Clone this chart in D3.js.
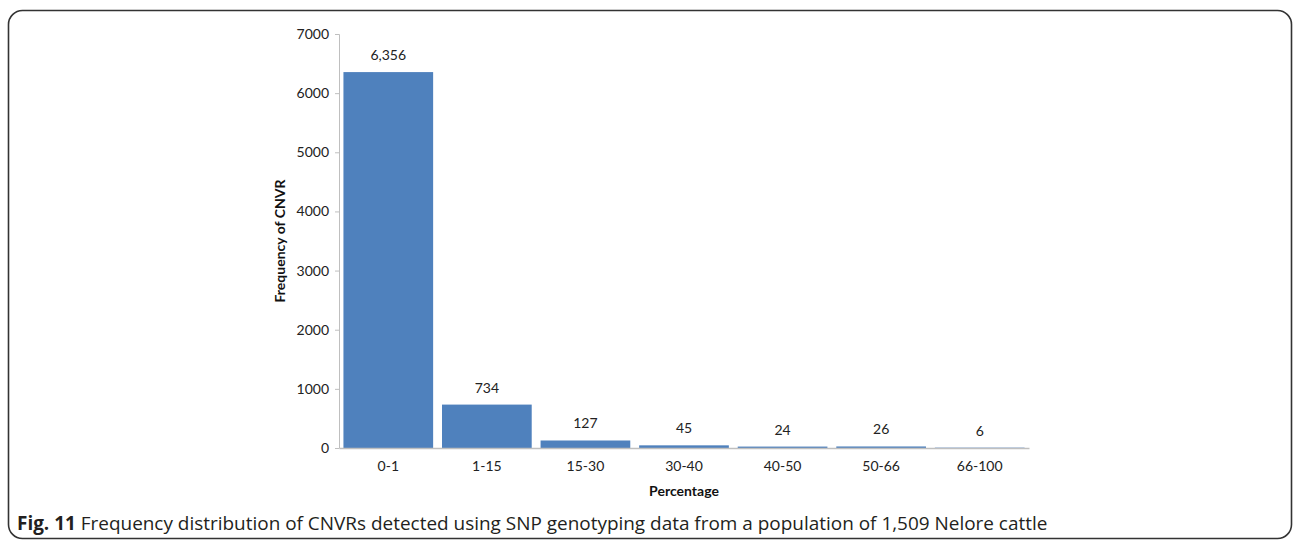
<!DOCTYPE html>
<html><head><meta charset="utf-8">
<script src="https://cdn.jsdelivr.net/npm/d3@7"></script>
<style>body{margin:0;background:#fff;} svg{display:block;}</style>
</head><body>
<svg id="c" width="1296" height="550"></svg>
<script>
const categories = ["0-1","1-15","15-30","30-40","40-50","50-66","66-100"];
const values = [6356, 734, 127, 45, 24, 26, 6];
const valueLabels = ["6,356","734","127","45","24","26","6"];
const yTicks = [0,1000,2000,3000,4000,5000,6000,7000];

const svg = d3.select("#c");
const font = "Lato, 'Open Sans', sans-serif";

// frame
svg.append("rect").attr("x",8.5).attr("y",10.5).attr("width",1283).attr("height",528)
  .attr("rx",14).attr("fill","none").attr("stroke","#333").attr("stroke-width",1.6);

const x = d3.scaleBand().domain(categories).range([339,1029]).paddingInner(0.09).paddingOuter(0.045);
const y = d3.scaleLinear().domain([0,7000]).range([448,34]);

// y axis
const ya = svg.append("g").attr("transform","translate(339,0)")
  .call(d3.axisLeft(y).tickValues(yTicks).tickSize(4).tickPadding(6).tickFormat(d3.format("d")));
ya.select(".domain").attr("stroke","#bfbfbf").attr("d","M-4,34.5H0.5V448.5");
ya.selectAll(".tick line").attr("stroke","#bfbfbf");
ya.selectAll("text").attr("font-family",font).attr("font-size",14).attr("fill","#222");

// bars
svg.selectAll("rect.bar").data(values).join("rect").attr("class","bar")
  .attr("x",(d,i)=>x(categories[i])).attr("width",x.bandwidth())
  .attr("y",d=>y(d)).attr("height",d=>y(0)-y(d)).attr("fill","#4F81BD");

// x axis
const xa = svg.append("g").attr("transform","translate(0,448)")
  .call(d3.axisBottom(x).tickSize(0).tickPadding(13));
xa.select(".domain").attr("stroke","#bfbfbf").attr("stroke-width",1.3);
xa.selectAll("text").attr("font-family",font).attr("font-size",14).attr("fill","#222");

// value labels
svg.selectAll("text.vl").data(values).join("text").attr("class","vl")
  .attr("x",(d,i)=>x(categories[i])+x.bandwidth()/2).attr("y",d=>y(d)-12)
  .attr("text-anchor","middle").attr("font-family",font).attr("font-size",14).attr("fill","#222")
  .text((d,i)=>valueLabels[i]);

// axis titles
svg.append("text").attr("x",684).attr("y",496).attr("text-anchor","middle")
  .attr("font-family",font).attr("font-size",14).attr("font-weight","bold").attr("fill","#111").text("Percentage");
svg.append("text").attr("transform","translate(285,241) rotate(-90)").attr("text-anchor","middle")
  .attr("font-family",font).attr("font-size",14).attr("font-weight","bold").attr("fill","#111").text("Frequency of CNVR");

// caption
const cap = svg.append("text").attr("x",17).attr("y",530).attr("font-family","'Open Sans', sans-serif")
  .attr("font-size",18.95).attr("fill","#231f20");
cap.append("tspan").attr("font-weight","bold").text("Fig. 11");
cap.append("tspan").text(" Frequency distribution of CNVRs detected using SNP genotyping data from a population of 1,509 Nelore cattle");
</script>
</body></html>
